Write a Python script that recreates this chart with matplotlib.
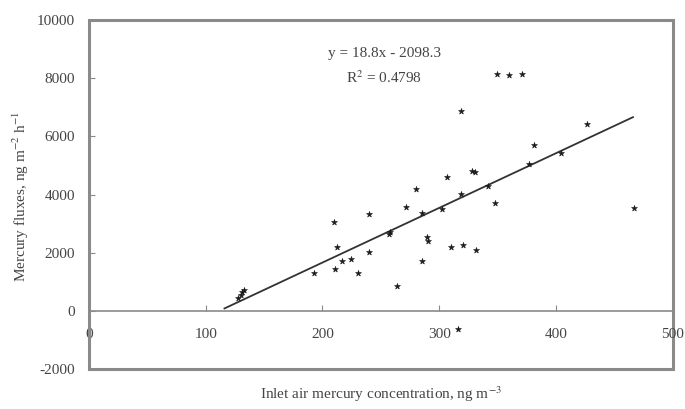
import numpy as np
import matplotlib
matplotlib.use('Agg')
import matplotlib.pyplot as plt
from matplotlib.patches import Rectangle

# Datos
x_conc = [128, 130, 131, 133, 193, 210, 212, 211, 217, 224.5, 230, 240, 239.6,
          257, 258, 264, 271.5, 280, 285, 285, 289.4, 290.5, 302, 307, 310, 319,
          320, 328, 330.6, 331.7, 347.4, 316, 318.4, 349.7, 359.6, 371, 427,
          381.6, 404.6, 467, 342, 377]
y_flux = [450, 550, 650, 720, 1314, 3063, 2206, 1430, 1715, 1783, 1292, 3326, 2013,
          2630, 2700, 868, 3577, 4207, 3350, 1715, 2548, 2411, 3498, 4605, 2206, 4012,
          2263, 4800, 4777, 2092, 3693, -617, 6858, 8150, 8116, 8150, 6412,
          5692, 5428, 3521, 4300, 5050]

# Recta de tendencia reportada
pendiente = 18.8
intercepto = -2098.3
x_linea = [116, 466]

plt.rcParams['font.family'] = ['Liberation Serif', 'DejaVu Serif']
plt.rcParams['mathtext.fontset'] = 'stix'
plt.rcParams['axes.unicode_minus'] = False
gris = '#8a8a8a'
texto = '#444444'

fig = plt.figure(figsize=(6.85, 4.09), dpi=100)
ax = fig.add_axes([0.130, 0.0978, 0.852, 0.853])

ax.scatter(x_conc, y_flux, marker='*', s=20, color='#1a1a1a', linewidths=0.4, zorder=3)
y_linea = [pendiente * v + intercepto for v in x_linea]
ax.plot(x_linea, y_linea, color='#333333', lw=1.3, zorder=2)

ax.set_xlim(0, 500)
ax.set_ylim(-2000, 10000)

# eje x sobre el cero
for s in ['top', 'right']:
    ax.spines[s].set_visible(False)
ax.spines['bottom'].set_position(('data', 0))
ax.spines['bottom'].set_color(gris)
ax.spines['bottom'].set_linewidth(1.2)
ax.spines['left'].set_color(gris)
ax.spines['left'].set_linewidth(2)
ax.add_patch(Rectangle((0, 0), 1, 1, transform=ax.transAxes, fill=False,
                       edgecolor=gris, lw=2.2, clip_on=False, zorder=1))

ax.set_xticks([0, 100, 200, 300, 400, 500])
ax.set_yticks(range(-2000, 10001, 2000))
ax.tick_params(axis='x', direction='in', length=4, color=gris, labelsize=11,
               labelcolor=texto, pad=12)
ax.tick_params(axis='y', direction='in', length=4, color=gris, labelsize=11,
               labelcolor=texto, pad=10)

ax.text(253, 8847, 'y = 18.8x - 2098.3', ha='center', va='center', fontsize=11, color=texto)
ax.text(253, 8024, 'R$^2$ = 0.4798', ha='center', va='center', fontsize=11, color=texto)

fig.text(0.03, 0.52, 'Mercury fluxes, ng m$^{-2}$ h$^{-1}$', rotation=90,
         ha='center', va='center', fontsize=11, color=texto)
fig.text(0.556, 0.035, 'Inlet air mercury concentration, ng m$^{-3}$',
         ha='center', va='center', fontsize=11, color=texto)

fig.savefig('out.png', dpi=100)
